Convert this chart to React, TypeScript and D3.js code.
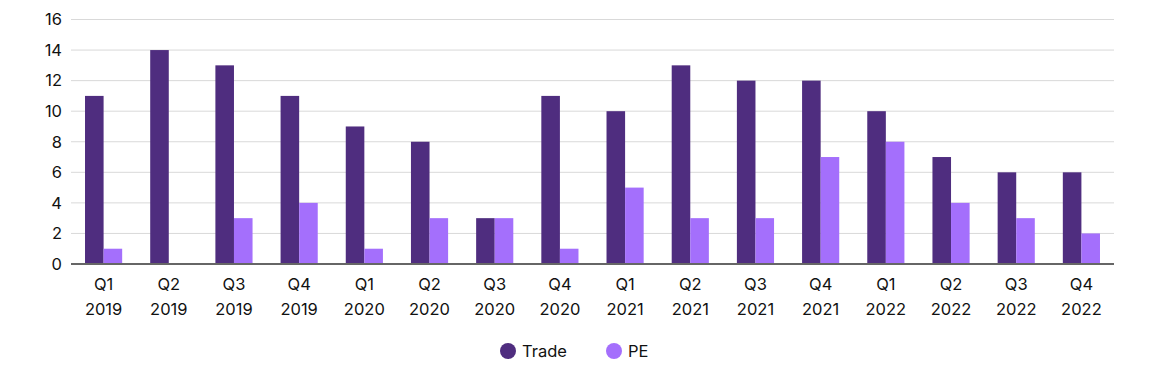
import React from "react";
import * as d3 from "d3";

const categories = ["Q1 2019","Q2 2019","Q3 2019","Q4 2019","Q1 2020","Q2 2020","Q3 2020","Q4 2020","Q1 2021","Q2 2021","Q3 2021","Q4 2021","Q1 2022","Q2 2022","Q3 2022","Q4 2022"];
const trade = [11,14,13,11,9,8,3,11,10,13,12,12,10,7,6,6];
const pe = [1,0,3,4,1,3,3,1,5,3,3,7,8,4,3,2];
const yTicks = [0,2,4,6,8,10,12,14,16];
const seriesNames = ["Trade","PE"];
const colors = ["#4f2d7f","#a46ffc"];

export default function App() {
  const W = 1150, H = 382;
  const left = 71, right = 1114, top = 19.5, bottom = 264;
  const x = d3.scaleBand().domain(categories).range([left, right]).paddingInner(0.43).paddingOuter(0.215);
  const y = d3.scaleLinear().domain([0, 16]).range([bottom, top]);
  const bw = x.bandwidth() / 2;
  const font = "Inter, 'Noto Sans', sans-serif";
  const series = [trade, pe];
  const fs = 16.5;
  return (
    <svg width={W} height={H} style={{ position: "absolute", left: 0, top: 0 }} fontFamily={font}>
      {yTicks.map(t => (
        <g key={t}>
          {t > 0 && <line x1={left} x2={right} y1={y(t)} y2={y(t)} stroke="#d9d9d9" strokeWidth={1} />}
          <text x={62} y={y(t)} dy="0.35em" textAnchor="end" fontSize={fs} fill="#111">{t}</text>
        </g>
      ))}
      {categories.map((c, i) => (
        <g key={c}>
          {series.map((s, j) => (
            <rect key={j} x={(x(c) as number) + j * bw} y={y(s[i])} width={bw} height={bottom - y(s[i])} fill={colors[j]} />
          ))}
          <text x={(x(c) as number) + bw} y={290} textAnchor="middle" fontSize={fs} fill="#111">{c.split(" ")[0]}</text>
          <text x={(x(c) as number) + bw} y={315} textAnchor="middle" fontSize={fs} fill="#111">{c.split(" ")[1]}</text>
        </g>
      ))}
      <line x1={left} x2={right} y1={bottom} y2={bottom} stroke="#666" strokeWidth={2} />
      {seriesNames.map((n, j) => {
        const cx = j === 0 ? 508 : 614;
        return (
          <g key={n}>
            <circle cx={cx} cy={351} r={8} fill={colors[j]} />
            <text x={cx + 14} y={351} dy="0.35em" fontSize={fs} fill="#111">{n}</text>
          </g>
        );
      })}
    </svg>
  );
}
